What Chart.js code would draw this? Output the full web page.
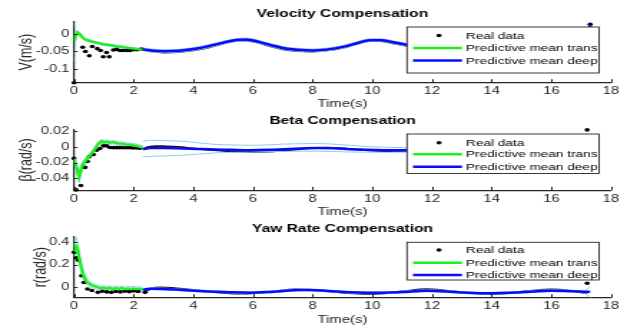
<!DOCTYPE html>
<html><head><meta charset="utf-8">
<script src="https://cdn.jsdelivr.net/npm/chart.js@4.4.1/dist/chart.umd.min.js"></script>
<style>
html,body{margin:0;padding:0;background:#fff;width:627px;height:328px;overflow:hidden;}
canvas{position:absolute;left:0;transform-origin:0 0;transform:scaleX(1.43151);}
</style></head><body>
<canvas id="c1" width="438" height="113" style="top:0px"></canvas>
<canvas id="c2" width="438" height="113" style="top:108px"></canvas>
<canvas id="c3" width="438" height="113" style="top:215px"></canvas>
<script>
// ---------- data ----------
const xTicks = [0,2,4,6,8,10,12,14,16,18];
const legendLabels = ['Real data','Predictive mean trans','Predictive mean deep'];

// Velocity
const velTicks = [-0.1,-0.05,0];
const velTickLabels = ['-0.1','-0.05','0'];
const velRealT = [0,0.29,0.38,0.51,0.61,0.78,0.89,0.98,1.09,1.18,1.32,1.43,1.54,1.65,1.77,1.88,2.0,2.12,2.26,17.3];
const velRealV = [-0.138,-0.038,-0.050,-0.062,-0.036,-0.042,-0.047,-0.065,-0.053,-0.065,-0.046,-0.044,-0.047,-0.047,-0.047,-0.047,-0.045,-0.045,-0.043,0.027];
const velTraceT = [2.3,2.6,3.0,3.5,4.0,4.5,5.0,5.5,5.8,6.2,6.6,7.0,7.5,8.0,8.5,9.0,9.5,9.9,10.3,10.7,11.2,11.6,12.5,13.5,14.5,15.5,16.5,17.2];
const velTraceV = [-0.044,-0.050,-0.053,-0.052,-0.047,-0.039,-0.028,-0.019,-0.019,-0.026,-0.036,-0.044,-0.049,-0.050,-0.047,-0.040,-0.028,-0.020,-0.021,-0.027,-0.035,-0.042,-0.047,-0.045,-0.038,-0.036,-0.042,-0.046];
const velTransT = [0,0.05,0.12,0.2,0.3,0.4,0.6,0.8,1.0,1.2,1.4,1.6,1.8,2.0,2.2,2.3];
const velTransV = [-0.022,-0.005,0.004,-0.002,-0.012,-0.017,-0.022,-0.026,-0.030,-0.032,-0.035,-0.037,-0.040,-0.042,-0.044,-0.045];
const velTransHi = [0.030,0.006,0.008,0.002,-0.009,-0.014,-0.019,-0.023,-0.027,-0.029,-0.032,-0.034,-0.037,-0.039,-0.041,-0.042];
const velTransLo = [-0.078,-0.020,0.000,-0.006,-0.015,-0.020,-0.025,-0.029,-0.033,-0.035,-0.038,-0.040,-0.043,-0.045,-0.047,-0.048];
const velDeepT = [2.3,2.6,3.0,3.5,4.0,4.5,5.0,5.5,5.8,6.2,6.6,7.0,7.5,8.0,8.5,9.0,9.5,9.9,10.3,10.7,11.2,11.6,12.5,13.5,14.5,15.5,16.5,17.2,17.3];
const velDeepV = [-0.044,-0.047,-0.049,-0.048,-0.043,-0.035,-0.025,-0.017,-0.016,-0.023,-0.032,-0.040,-0.045,-0.047,-0.044,-0.037,-0.026,-0.018,-0.018,-0.024,-0.032,-0.039,-0.044,-0.042,-0.036,-0.034,-0.039,-0.043,0.025];
const velDeepHi = [-0.040,-0.043,-0.045,-0.044,-0.039,-0.031,-0.021,-0.013,-0.012,-0.019,-0.028,-0.036,-0.041,-0.043,-0.040,-0.033,-0.022,-0.014,-0.014,-0.020,-0.028,-0.035,-0.040,-0.038,-0.032,-0.030,-0.035,-0.039,0.029];
const velDeepLo = [-0.048,-0.051,-0.053,-0.052,-0.047,-0.039,-0.029,-0.021,-0.020,-0.027,-0.036,-0.044,-0.049,-0.051,-0.048,-0.041,-0.030,-0.022,-0.022,-0.028,-0.036,-0.043,-0.048,-0.046,-0.040,-0.038,-0.043,-0.047,0.021];

// Beta
const betaTicks = [-0.04,-0.02,0,0.02];
const betaTickLabels = ['-0.04','-0.02','0','0.02'];
const betaRealT = [0,0.07,0.23,0.37,0.45,0.51,0.65,0.76,0.87,0.98,1.09,1.2,1.32,1.43,1.54,1.65,1.76,1.87,1.98,2.1,2.2,17.2];
const betaRealV = [-0.0146,-0.0545,-0.049,-0.026,-0.0185,-0.0126,-0.0098,-0.0042,-0.002,0.0013,0.0013,-0.0008,-0.001,-0.001,-0.001,-0.0012,-0.0012,-0.0012,-0.0015,-0.0015,-0.0018,0.0215];
const betaTraceT = [2.3,2.5,2.75,3.0,3.5,4.0,4.5,5.0,5.5,6.0,6.5,7.0,7.5,8.0,8.5,9.0,9.5,10.0,10.5,11.0,11.6,12.5,13.5,14.5,15.5,16.5,17.2];
const betaTraceV = [-0.003,0.0,0.001,0.0008,0.0,-0.002,-0.0038,-0.005,-0.006,-0.0062,-0.006,-0.0048,-0.003,-0.0015,-0.001,-0.002,-0.0035,-0.0048,-0.0052,-0.005,-0.0045,-0.004,-0.0035,-0.004,-0.0045,-0.004,-0.0035];
const betaTransT = [0,0.08,0.17,0.28,0.45,0.65,0.82,0.93,1.0,1.1,1.2,1.32,1.45,1.6,1.76,1.9,2.05,2.21,2.3];
const betaTransV = [-0.0146,-0.026,-0.0377,-0.023,-0.0146,-0.0054,0.0043,0.0072,0.0055,0.0068,0.0052,0.006,0.0045,0.004,0.003,0.0025,0.0015,0.0,-0.0005];
const betaTransHi = [-0.012,-0.022,-0.031,-0.019,-0.012,-0.003,0.0065,0.0095,0.0078,0.009,0.0075,0.0082,0.0068,0.0062,0.0052,0.0047,0.0037,0.0022,0.0017];
const betaTransLo = [-0.017,-0.031,-0.045,-0.028,-0.017,-0.0078,0.002,0.005,0.0033,0.0046,0.003,0.0038,0.0023,0.0018,0.0008,0.0003,-0.0007,-0.0022,-0.0027];
const betaDeepT = [2.3,2.55,3.0,3.66,4.2,4.78,5.3,5.9,6.5,7.0,7.6,8.14,8.7,9.25,9.8,10.37,11.0,11.6,12.5,13.5,14.5,15.5,16.5,17.2];
const betaDeepV = [-0.003,-0.0015,-0.0015,-0.002,-0.0028,-0.0033,-0.0038,-0.0042,-0.0038,-0.003,-0.002,-0.0013,-0.0018,-0.003,-0.0038,-0.0042,-0.0042,-0.004,-0.0035,-0.003,-0.0035,-0.004,-0.0035,-0.003];
const betaDeepHi = [0.007,0.0084,0.008,0.007,0.005,0.003,0.0025,0.002,0.0025,0.0035,0.004,0.0042,0.0035,0.002,0.0005,-0.0005,-0.001,-0.0012,-0.0005,0.0,-0.0005,-0.001,-0.0008,-0.0005];
const betaDeepLo = [-0.0126,-0.012,-0.0115,-0.0105,-0.009,-0.0075,-0.007,-0.0065,-0.006,-0.0058,-0.0055,-0.0055,-0.0058,-0.0065,-0.0068,-0.007,-0.0068,-0.0066,-0.0062,-0.006,-0.0062,-0.0068,-0.0063,-0.006];

// Yaw rate
const yawTicks = [0,0.2,0.4];
const yawTickLabels = ['0','0.2','0.4'];
const yawRealT = [0,0.07,0.14,0.25,0.33,0.45,0.6,0.8,0.95,1.1,1.25,1.4,1.55,1.7,1.85,2.0,2.15,2.38,17.2];
const yawRealV = [0.31,0.262,0.24,0.10,0.04,-0.018,-0.032,-0.048,-0.038,-0.044,-0.048,-0.04,-0.044,-0.038,-0.042,-0.036,-0.04,-0.048,0.033];
const yawTraceT = [2.38,2.6,2.9,3.3,3.8,4.4,5.0,5.5,6.1,6.7,7.4,8.0,8.6,9.2,9.8,10.4,11.0,11.8,12.4,13.0,13.5,14.0,14.6,15.2,16.0,16.6,17.2];
const yawTraceV = [-0.045,-0.012,-0.004,-0.008,-0.022,-0.04,-0.053,-0.06,-0.055,-0.04,-0.022,-0.026,-0.04,-0.055,-0.062,-0.056,-0.04,-0.02,-0.03,-0.048,-0.058,-0.064,-0.055,-0.038,-0.022,-0.032,-0.058];
const yawTransT = [0,0.03,0.1,0.2,0.31,0.42,0.59,0.76,0.9,1.0,1.1,1.2,1.3,1.4,1.5,1.6,1.7,1.8,1.9,2.0,2.1,2.2,2.3];
const yawTransV = [0.315,0.375,0.36,0.225,0.105,0.045,0.015,0.0,-0.012,-0.005,-0.015,-0.008,-0.018,-0.01,-0.016,-0.01,-0.018,-0.012,-0.016,-0.012,-0.018,-0.015,-0.021];
const yawTransHi = [0.36,0.465,0.42,0.27,0.14,0.07,0.035,0.018,0.006,0.013,0.004,0.01,0.0,0.008,0.002,0.008,0.0,0.006,0.002,0.006,0.0,0.003,-0.004];
const yawTransLo = [0.27,0.31,0.30,0.18,0.075,0.022,-0.005,-0.018,-0.03,-0.023,-0.033,-0.026,-0.036,-0.028,-0.034,-0.028,-0.036,-0.03,-0.034,-0.03,-0.036,-0.033,-0.038];
const yawDeepT = [2.3,2.55,3.0,3.66,4.2,4.78,5.3,5.9,6.5,7.02,7.5,7.9,8.5,9.25,9.8,10.37,11.0,11.82,12.5,13.0,13.72,14.3,14.84,15.4,15.96,16.5,17.07,17.3];
const yawDeepV = [-0.027,-0.015,-0.018,-0.027,-0.036,-0.042,-0.048,-0.051,-0.045,-0.035,-0.028,-0.027,-0.035,-0.048,-0.051,-0.051,-0.045,-0.033,-0.04,-0.05,-0.057,-0.055,-0.05,-0.04,-0.033,-0.035,-0.042,-0.042];
const yawDeepHi = [-0.019,-0.007,-0.010,-0.019,-0.028,-0.034,-0.040,-0.043,-0.037,-0.027,-0.020,-0.019,-0.027,-0.040,-0.043,-0.043,-0.037,-0.025,-0.032,-0.042,-0.049,-0.047,-0.042,-0.032,-0.025,-0.027,-0.034,0.000];
const yawDeepLo = [-0.035,-0.023,-0.026,-0.035,-0.044,-0.050,-0.056,-0.059,-0.053,-0.043,-0.036,-0.035,-0.043,-0.056,-0.059,-0.059,-0.053,-0.041,-0.048,-0.058,-0.065,-0.063,-0.058,-0.048,-0.041,-0.043,-0.050,-0.095];

// ---------- rendering ----------
const SX = 627/438;
const FONT = "'Liberation Sans', Arial, Helvetica, sans-serif";
const AXC = '#262626';
const COL = {real:'#000000', trans:'#1ef01e', deep:'#0a0aff', band:'#8ccfee', trace:'#1a1a1a'};
const CW = 438, CH = 113;
const AREA_L = 74/SX, AREA_R = 611/SX;
const TICK_F = 10.3, XT_F = 10.4, YT_F = 12.5, TITLE_F = 10.9, LEG_F = 9.5;

function pts(t, v){ return t.map((x,i)=>({x:x, y:v[i]})); }

const deco = {
  id:'deco',
  afterDraw(chart){
    const s = chart.options.plugins.deco;
    const c = chart.ctx, a = chart.chartArea, xs = chart.scales.x, ys = chart.scales.y;
    c.save();
    // inward ticks
    c.strokeStyle = AXC; c.lineWidth = 1;
    c.beginPath();
    xs.ticks.forEach(t=>{ const p = Math.round(xs.getPixelForValue(t.value))+0.5; c.moveTo(p, a.bottom); c.lineTo(p, a.bottom-3.5); });
    ys.ticks.forEach(t=>{ const p = Math.round(ys.getPixelForValue(t.value))+0.5; c.moveTo(a.left, p); c.lineTo(a.left+2.6, p); });
    c.stroke();
    // title
    c.fillStyle = '#000';
    c.font = 'bold '+TITLE_F+'px '+FONT;
    c.textAlign = 'center'; c.textBaseline = 'middle';
    c.fillText(s.title, (a.left+a.right)/2, s.titleY);
    // legend
    const L = s.legend;
    const x1 = 407/SX, x2 = 599/SX;
    c.fillStyle = '#fff';
    c.fillRect(x1, L.y1, x2-x1, L.y2-L.y1);
    c.strokeStyle = AXC; c.lineWidth = 0.9;
    c.strokeRect(x1, L.y1, x2-x1, L.y2-L.y1);
    const lx1 = 413/SX, lx2 = 462/SX, dotX = 439/SX, tx = 466/SX;
    c.fillStyle = COL.real;
    c.beginPath(); c.arc(dotX, L.rows[0], 1.8, 0, Math.PI*2); c.fill();
    c.lineWidth = 2.4;
    c.strokeStyle = COL.trans; c.beginPath(); c.moveTo(lx1, L.rows[1]); c.lineTo(lx2, L.rows[1]); c.stroke();
    c.strokeStyle = COL.deep; c.beginPath(); c.moveTo(lx1, L.rows[2]); c.lineTo(lx2, L.rows[2]); c.stroke();
    c.fillStyle = '#000';
    c.font = LEG_F+'px '+FONT;
    c.textAlign = 'left'; c.textBaseline = 'middle';
    legendLabels.forEach((lab,i)=> c.fillText(lab, tx, L.rows[i]+0.5));
    c.restore();
  }
};

function makeChart(id, sp){
  const lhX = XT_F*1.2;
  const xH = sp.xTitleY + lhX/2 - sp.areaBottom;
  const band = (t,v)=>({data:pts(t,v), borderColor:COL.band, borderWidth:1, pointRadius:0, order:3, cubicInterpolationMode:'monotone'});
  const datasets = [
    {label:legendLabels[1], data:pts(sp.transT, sp.transV), borderColor:COL.trans, borderWidth:2.3, pointRadius:0, order:1},
    {label:legendLabels[2], data:pts(sp.deepT, sp.deepV), borderColor:COL.deep, borderWidth:2.5, pointRadius:0, order:1, cubicInterpolationMode:'monotone'},
    {label:legendLabels[0], data:pts(sp.realT, sp.realV), showLine:false, pointRadius:1.8, pointBorderWidth:0, pointBackgroundColor:COL.real, order:2, clip:false},
    {label:'trans upper', ...band(sp.transT, sp.transHi), cubicInterpolationMode:'default'},
    {label:'trans lower', ...band(sp.transT, sp.transLo), cubicInterpolationMode:'default'},
    {label:'deep upper', ...band(sp.deepT, sp.deepHi)},
    {label:'deep lower', ...band(sp.deepT, sp.deepLo)},
    {label:'real trace', data:pts(sp.traceT, sp.traceV), borderColor:COL.trace, borderWidth:1.8, pointRadius:0, order:4, cubicInterpolationMode:'monotone'}
  ];
  return new Chart(document.getElementById(id), {
    type:'scatter',
    data:{datasets},
    options:{
      responsive:false, animation:false, events:[],
      datasets:{scatter:{showLine:true}},
      layout:{padding:{top:sp.areaTop, left:0, right:CW-AREA_R, bottom:CH-sp.areaBottom-xH}},
      plugins:{legend:{display:false}, tooltip:{enabled:false}, title:{display:false},
        deco:{title:sp.title, titleY:sp.titleY, legend:sp.legend}},
      scales:{
        x:{type:'linear', min:0, max:18,
          afterBuildTicks:(sc)=>{ sc.ticks = xTicks.map(v=>({value:v})); },
          afterFit:(sc)=>{ sc.height = xH; },
          grid:{display:false, drawTicks:false},
          border:{display:true, color:AXC, width:1.2},
          ticks:{color:AXC, padding:2.6, font:{family:FONT, size:TICK_F}, maxRotation:0, autoSkip:false, callback:(v,i)=>String(xTicks[i])},
          title:{display:true, text:'Time(s)', color:AXC, font:{family:FONT, size:XT_F}, padding:{top:0,bottom:0}}
        },
        y:{type:'linear', min:sp.yMin, max:sp.yMax,
          afterBuildTicks:(sc)=>{ sc.ticks = sp.yTicks.map(v=>({value:v})); },
          afterFit:(sc)=>{ sc.width = AREA_L; },
          grid:{display:false, drawTicks:false},
          border:{display:true, color:AXC, width:1.2},
          ticks:{color:AXC, padding:3.2, font:{family:FONT, size:TICK_F}, autoSkip:false, callback:(v,i)=>sp.yTickLabels[i]},
          title:{display:true, text:sp.ylabel, color:AXC, font:{family:FONT, size:YT_F}, padding:{top:sp.yTitleX - YT_F*1.2/2, bottom:0}}
        }
      }
    },
    plugins:[deco]
  });
}

makeChart('c1', {title:'Velocity Compensation', ylabel:'V(m/s)', yMin:-0.138, yMax:0.034,
  yTicks:velTicks, yTickLabels:velTickLabels, areaTop:21.7, areaBottom:82.7, titleY:14, xTitleY:104, yTitleX:26/SX,
  realT:velRealT, realV:velRealV, traceT:velTraceT, traceV:velTraceV,
  transT:velTransT, transV:velTransV, transHi:velTransHi, transLo:velTransLo,
  deepT:velDeepT, deepV:velDeepV, deepHi:velDeepHi, deepLo:velDeepLo,
  legend:{y1:27, y2:73, rows:[35.5, 48, 60.5]}});

makeChart('c2', {title:'Beta Compensation', ylabel:'β(rad/s)', yMin:-0.055, yMax:0.022,
  yTicks:betaTicks, yTickLabels:betaTickLabels, areaTop:21.5, areaBottom:82.3, titleY:13, xTitleY:104, yTitleX:27/SX,
  realT:betaRealT, realV:betaRealV, traceT:betaTraceT, traceV:betaTraceV,
  transT:betaTransT, transV:betaTransV, transHi:betaTransHi, transLo:betaTransLo,
  deepT:betaDeepT, deepV:betaDeepV, deepHi:betaDeepHi, deepLo:betaDeepLo,
  legend:{y1:26, y2:65.5, rows:[34.7, 46.3, 58.7]}});

makeChart('c3', {title:'Yaw Rate Compensation', ylabel:'r(rad/s)', yMin:-0.096, yMax:0.45,
  yTicks:yawTicks, yTickLabels:yawTickLabels, areaTop:21.7, areaBottom:82.7, titleY:14, xTitleY:105, yTitleX:41/SX,
  realT:yawRealT, realV:yawRealV, traceT:yawTraceT, traceV:yawTraceV,
  transT:yawTransT, transV:yawTransV, transHi:yawTransHi, transLo:yawTransLo,
  deepT:yawDeepT, deepV:yawDeepV, deepHi:yawDeepHi, deepLo:yawDeepLo,
  legend:{y1:27.3, y2:65, rows:[35, 47.7, 60]}});
</script>
</body></html>
